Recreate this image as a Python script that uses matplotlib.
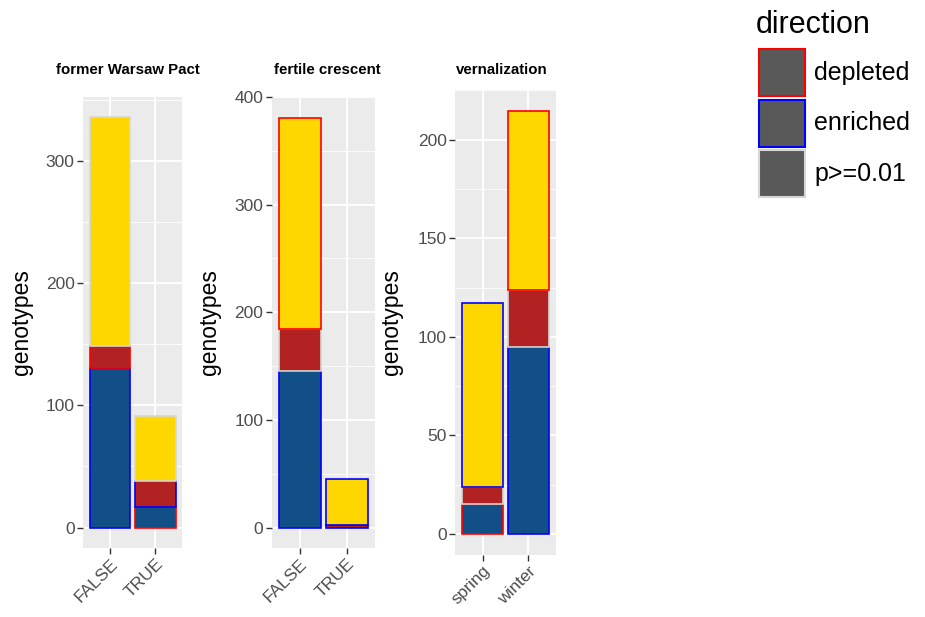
import matplotlib.pyplot as plt
import matplotlib.transforms as mtransforms
from matplotlib.patches import Rectangle

plt.rcParams['font.family'] = ['Liberation Sans', 'DejaVu Sans']

# data
panels = ['former Warsaw Pact', 'fertile crescent', 'vernalization']
groups = [['FALSE', 'TRUE'], ['FALSE', 'TRUE'], ['spring', 'winter']]

# stacked fill series (bottom to top)
seg_blue = [[130.5, 17], [145, 0], [15, 95]]
seg_red = [[18, 21], [39, 2.5], [9, 28.5]]
seg_yellow = [[187, 53], [197, 43], [93, 91]]

# direction (outline) for each segment
dir_blue = [['enriched', 'depleted'], ['enriched', 'enriched'], ['depleted', 'enriched']]
dir_red = [['depleted', 'enriched'], ['p>=0.01', 'enriched'], ['p>=0.01', 'p>=0.01']]
dir_yellow = [['p>=0.01', 'p>=0.01'], ['depleted', 'enriched'], ['enriched', 'depleted']]

y_ticks = [[0, 100, 200, 300], [0, 100, 200, 300, 400], [0, 50, 100, 150, 200]]

directions = ['depleted', 'enriched', 'p>=0.01']
edge_col = {'depleted': '#ff0000', 'enriched': '#0000ff', 'p>=0.01': '#d6d6d6'}
fill_cols = ['#124f86', '#b22222', '#ffd700']

W, H = 925, 617
fig = plt.figure(figsize=(W / 100, H / 100), dpi=100)

# axes boxes in pixels: left, top, right, bottom
boxes = [(83, 97, 182.5, 548), (271.5, 97, 375, 548), (455, 90, 556, 555)]
ylab_x = [22, 210, 392]
title_x = [128, 327.5, 502]

for i, name in enumerate(panels):
    l, t, r, b = boxes[i]
    ax = fig.add_axes([l / W, 1 - b / H, (r - l) / W, (b - t) / H])
    ax.set_facecolor('#ebebeb')
    for s in ax.spines.values():
        s.set_visible(False)

    x = [1, 2]
    bottoms = [0, 0]
    segs = [seg_blue[i], seg_red[i], seg_yellow[i]]
    dirs = [dir_blue[i], dir_red[i], dir_yellow[i]]
    for k in range(3):
        for j in range(2):
            if segs[k][j] <= 0:
                continue
            ax.bar(x[j], segs[k][j], bottom=bottoms[j], width=0.9,
                   color=fill_cols[k], edgecolor=edge_col[dirs[k][j]],
                   linewidth=1.2, zorder=3)
        bottoms = [bottoms[j] + segs[k][j] for j in range(2)]

    ax.set_yticks(y_ticks[i])
    step = y_ticks[i][1] - y_ticks[i][0]
    ax.set_yticks([v + step / 2 for v in y_ticks[i]], minor=True)
    ax.set_xticks(x)
    ax.set_xticklabels(groups[i], rotation=45, ha='right', va='top',
                       rotation_mode='anchor')
    shift = mtransforms.ScaledTranslation(5 / 100, -3 / 100, fig.dpi_scale_trans)
    for lab in ax.get_xticklabels():
        lab.set_transform(lab.get_transform() + shift)

    top = max(bottoms)
    ax.set_ylim(-0.05 * top, 1.05 * top)
    ax.set_xlim(0.4, 2.6)

    ax.grid(True, which='major', color='white', linewidth=1.3, zorder=0)
    ax.grid(True, which='minor', axis='y', color='white', linewidth=0.6, zorder=0)
    ax.set_axisbelow(True)
    ax.tick_params(which='major', length=4, width=1, color='#333333',
                   labelsize=12.5, labelcolor='#4d4d4d', pad=2)
    ax.tick_params(which='minor', length=0)

    fig.text(title_x[i] / W, 1 - 70 / H, name, fontsize=10.8, fontweight='bold',
             ha='center', va='center')
    fig.text(ylab_x[i] / W, 1 - ((t + b) / 2) / H, 'genotypes', rotation=90,
             fontsize=16.5, ha='center', va='center')

# legend for outline colour
lax = fig.add_axes([0, 0, 1, 1], zorder=-1)
lax.set_xlim(0, W)
lax.set_ylim(H, 0)
lax.axis('off')
lax.text(756, 25, 'direction', fontsize=22, ha='left', va='center')
for n, d in enumerate(directions):
    y0 = 49 + n * 50.5
    lax.add_patch(Rectangle((759, y0), 46, 47, facecolor='#595959',
                            edgecolor=edge_col[d], linewidth=1.5))
    lax.text(814, y0 + 24, d, fontsize=18, ha='left', va='center')

fig.savefig('out.png', dpi=100)
